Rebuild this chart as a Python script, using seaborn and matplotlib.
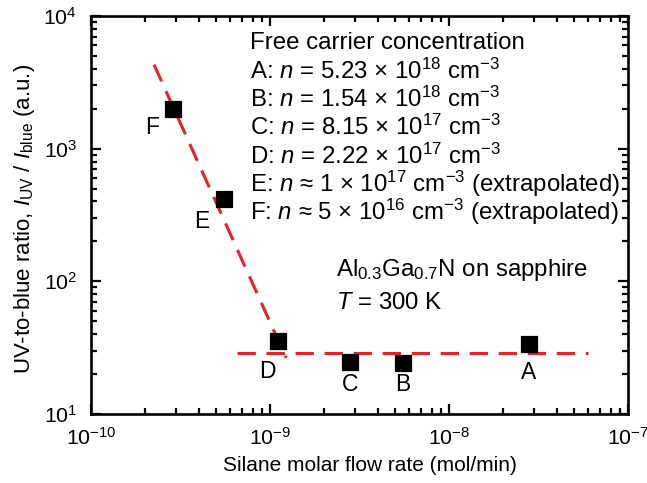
import pandas as pd
import seaborn as sns
import matplotlib.pyplot as plt
from matplotlib.ticker import LogLocator

# datos
samples = ['A', 'B', 'C', 'D', 'E', 'F']
flow = [2.8e-8, 5.5e-9, 2.8e-9, 1.11e-9, 5.5e-10, 2.87e-10]
ratio = [33.5, 24.3, 24.5, 35.5, 420, 2000]

steep_x = [2.25e-10, 1.23e-9]
steep_y = [4300, 26.5]
flat_x = [6.5e-10, 6.0e-8]
flat_y = [28.6, 28.6]

legend_lines = [
    'Free carrier concentration',
    r'A: $\mathit{n}$ = 5.23 × 10$^{18}$ cm$^{-3}$',
    r'B: $\mathit{n}$ = 1.54 × 10$^{18}$ cm$^{-3}$',
    r'C: $\mathit{n}$ = 8.15 × 10$^{17}$ cm$^{-3}$',
    r'D: $\mathit{n}$ = 2.22 × 10$^{17}$ cm$^{-3}$',
    r'E: $\mathit{n}$ ≈ 1 × 10$^{17}$ cm$^{-3}$ (extrapolated)',
    r'F: $\mathit{n}$ ≈ 5 × 10$^{16}$ cm$^{-3}$ (extrapolated)',
]

# desplazamiento de las etiquetas de cada punto (en pixeles)
label_offset = {'A': (0, -28), 'B': (0, -22), 'C': (0, -22), 'D': (-11, -30),
                'E': (-22, -23), 'F': (-21, -19)}

sns.set_style('ticks')
plt.rcParams['font.family'] = ['Liberation Sans', 'DejaVu Sans']
plt.rcParams['mathtext.fontset'] = 'custom'
plt.rcParams['mathtext.rm'] = 'Liberation Sans'
plt.rcParams['mathtext.it'] = 'Liberation Sans:italic'
plt.rcParams['mathtext.default'] = 'regular'
for k in ['text.color', 'axes.labelcolor', 'xtick.color', 'ytick.color']:
    plt.rcParams[k] = 'black'

red = '#e8212b'
fs_txt = 17.3
fs_tick = 15.3
fs_lab = 15

fig = plt.figure(figsize=(6.47, 4.83), dpi=100)
ax = fig.add_axes([91 / 647, 1 - 414 / 483, 537 / 647, 398 / 483])

df = pd.DataFrame({'flow': flow, 'ratio': ratio, 'sample': samples})
sns.lineplot(x=steep_x, y=steep_y, ax=ax, color=red, lw=2.2,
             zorder=1).lines[-1].set_dashes((6, 3.5))
sns.lineplot(x=flat_x, y=flat_y, ax=ax, color=red, lw=2.2,
             zorder=1).lines[-1].set_dashes((6, 3.5))
sns.scatterplot(data=df, x='flow', y='ratio', ax=ax, marker='s', s=125,
                color='black', edgecolor='black', zorder=3)

for s, xv, yv in zip(samples, flow, ratio):
    dx, dy = label_offset[s]
    ax.annotate(s, (xv, yv), xytext=(dx * 0.72, dy * 0.72),
                textcoords='offset points', ha='center', va='center',
                fontsize=16.5)

ax.set_xscale('log')
ax.set_yscale('log')
ax.set_xlim(1e-10, 1e-7)
ax.set_ylim(1e1, 1e4)
ax.xaxis.set_major_locator(LogLocator(base=10, numticks=10))
ax.yaxis.set_major_locator(LogLocator(base=10, numticks=10))
ax.xaxis.set_minor_locator(LogLocator(base=10, subs=range(2, 10), numticks=20))
ax.yaxis.set_minor_locator(LogLocator(base=10, subs=range(2, 10), numticks=20))

for sp in ax.spines.values():
    sp.set_linewidth(1.9)
    sp.set_color('black')
ax.tick_params(which='both', direction='in', top=True, right=True,
               width=1.6, color='black', labelcolor='black', labelsize=fs_tick)
ax.tick_params(which='major', length=7)
ax.tick_params(which='minor', length=4.5)
ax.tick_params(axis='x', which='major', pad=9)
ax.tick_params(axis='y', which='major', pad=10)

ax.set_xlabel('Silane molar flow rate (mol/min)', fontsize=fs_lab)
ax.set_ylabel(r'UV-to-blue ratio, $\mathit{I}_{\mathrm{UV}}$ / $\mathit{I}_{\mathrm{blue}}$ (a.u.)',
              fontsize=16)
ax.xaxis.set_label_coords((370 - 91) / 537, -(456 - 414) / 398)
ax.yaxis.set_label_coords(-(91 - 37) / 537, 0.49)

# texto de concentraciones
for i, line in enumerate(legend_lines):
    fig.text(250 / 647, 1 - (43 + 28.2 * i) / 483, line, fontsize=fs_txt,
             ha='left', va='center')

fig.text(336 / 647, 1 - 270 / 483, r'Al$_{0.3}$Ga$_{0.7}$N on sapphire',
         fontsize=fs_txt, ha='left', va='center')
fig.text(336 / 647, 1 - 303 / 483, r'$\mathit{T}$ = 300 K', fontsize=fs_txt,
         ha='left', va='center')

fig.savefig('out.png', dpi=100)
